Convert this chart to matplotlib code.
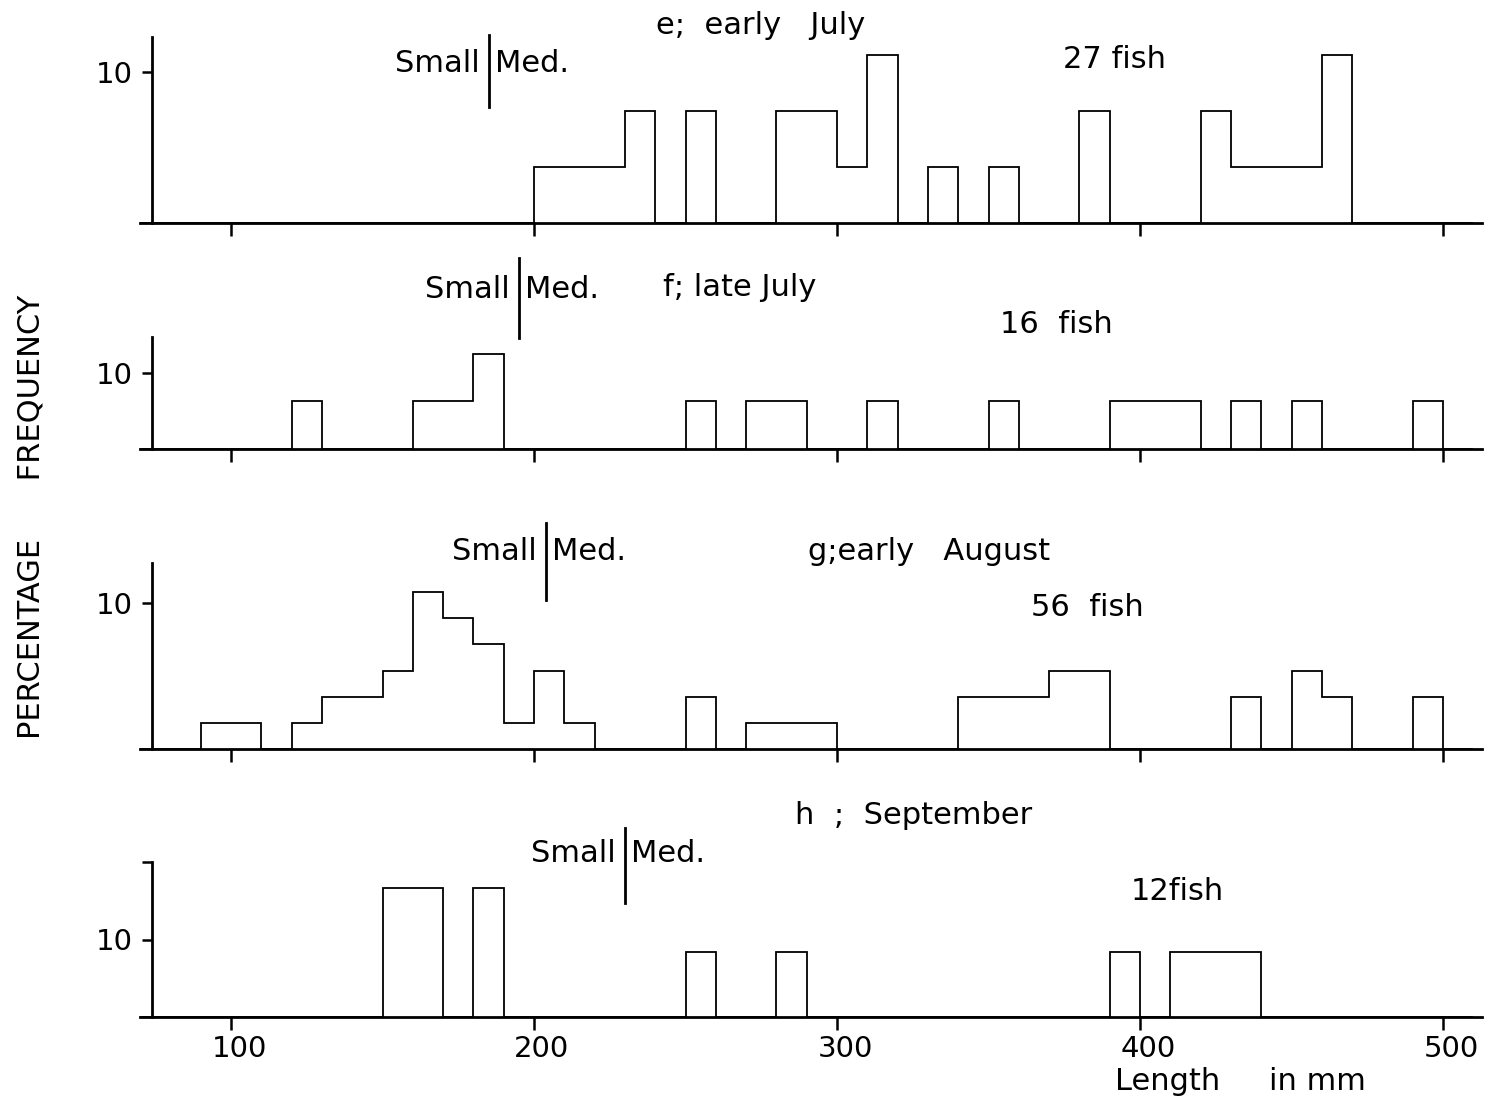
import numpy as np
import matplotlib
matplotlib.use('Agg')
import matplotlib.pyplot as plt
import matplotlib.transforms as mtransforms

plt.rcParams['font.family'] = ['DejaVu Sans']

# length bins are 10 mm wide, listed by their lower edge; counts are fish per bin
early_july_bins = [200, 210, 220, 230, 250, 280, 290, 300, 310, 330, 350, 380, 420, 430, 440, 450, 460]
early_july_fish = [1, 1, 1, 2, 2, 2, 2, 1, 3, 1, 1, 2, 2, 1, 1, 1, 3]

late_july_bins = [120, 160, 170, 180, 250, 270, 280, 310, 350, 390, 400, 410, 430, 450, 490]
late_july_fish = [1, 1, 1, 2, 1, 1, 1, 1, 1, 1, 1, 1, 1, 1, 1]

early_aug_bins = [90, 100, 120, 130, 140, 150, 160, 170, 180, 190, 200, 210, 250, 270, 280, 290,
                  340, 350, 360, 370, 380, 430, 450, 460, 490]
early_aug_fish = [1, 1, 1, 2, 2, 3, 6, 5, 4, 1, 3, 1, 2, 1, 1, 1, 2, 2, 2, 3, 3, 2, 3, 2, 2]

sept_bins = [150, 160, 180, 250, 280, 390, 410, 420, 430]
sept_fish = [2, 2, 2, 1, 1, 1, 1, 1, 1]

panel_titles = ['e;  early   July', 'f; late July', 'g;early   August', 'h  ;  September']
fish_labels = ['27 fish', '16  fish', '56  fish', '12fish']
# small / medium size boundary drawn on each panel (mm)
small_med_cut = [185, 195, 204, 230]

x_ticks = [100, 200, 300, 400, 500]

W, H = 1488, 1099
fig = plt.figure(figsize=(W / 100, H / 100), dpi=100)


def fx(px):
    return px / W


def fy(py):
    return 1 - py / H


# (baseline px, top px, ymax %)
panel_boxes = [(223, 37, 12.3), (449, 337, 14.7), (749, 563, 12.7), (1017, 862, 20.0)]
xmin, xmax = 70, 513
left_px = 231 + (xmin - 100) * 3.03
right_px = 231 + (xmax - 100) * 3.03

data = [(early_july_bins, early_july_fish), (late_july_bins, late_july_fish),
        (early_aug_bins, early_aug_fish), (sept_bins, sept_fish)]

title_pos = [(656, 25), (663, 288), (808, 551), (795, 816)]
fish_pos = [(1063, 60), (1000, 324), (1031, 608), (1131, 891)]
cut_span = [(35, 107), (258, 338), (523, 600), (828, 903)]
cut_text_y = [63, 290, 551, 853]

edges = np.arange(xmin, 520, 10)
fs = 22

axes = []
for i, (base, top, ymax) in enumerate(panel_boxes):
    ax = fig.add_axes([fx(left_px), fy(base), fx(right_px - left_px), (base - top) / H])
    axes.append(ax)
    bins, fish = data[i]
    counts = np.zeros(len(edges) - 1)
    for b, n in zip(bins, fish):
        counts[(b - xmin) // 10] = n
    pct = counts / sum(fish) * 100
    ax.stairs(pct, edges, baseline=0, fill=False, color='black', lw=1.3)

    ax.set_xlim(xmin, xmax)
    ax.set_ylim(0, ymax)
    for s in ['top', 'right']:
        ax.spines[s].set_visible(False)
    ax.spines['left'].set_position(('data', 74))
    ax.spines['left'].set_linewidth(2.0)
    ax.spines['bottom'].set_linewidth(2.0)
    ax.set_facecolor('none')

    ax.set_xticks(x_ticks)
    ax.tick_params(axis='x', direction='out', length=9, width=1.8, pad=4, labelsize=21)
    if i < 3:
        ax.set_xticklabels([])
        ax.set_yticks([10])
        ax.set_yticklabels(['10'])
    else:
        ax.set_yticks([10, 20])
        ax.set_yticklabels(['10', ''])
        for lbl in ax.get_xticklabels():
            lbl.set_transform(lbl.get_transform() +
                              mtransforms.ScaledTranslation(0.08, 0, fig.dpi_scale_trans))
    ax.tick_params(axis='y', direction='out', length=7, width=1.8, pad=7, labelsize=21)

    # panel title and sample size
    fig.text(fx(title_pos[i][0]), fy(title_pos[i][1]), panel_titles[i], fontsize=fs,
             ha='left', va='center')
    fig.text(fx(fish_pos[i][0]), fy(fish_pos[i][1]), fish_labels[i], fontsize=fs,
             ha='left', va='center')

    # small / medium boundary marker
    trans = mtransforms.blended_transform_factory(ax.transData, fig.transFigure)
    cut = small_med_cut[i]
    ax.plot([cut, cut], [fy(cut_span[i][0]), fy(cut_span[i][1])], color='black', lw=2.0,
            transform=trans, clip_on=False)
    ax.text(cut - 3.0, fy(cut_text_y[i]), 'Small', transform=trans, fontsize=fs,
            ha='right', va='center')
    ax.text(cut + 2.0, fy(cut_text_y[i]), 'Med.', transform=trans, fontsize=fs,
            ha='left', va='center')

fig.text(fx(31), fy(517), 'PERCENTAGE      FREQUENCY', rotation=90, fontsize=fs,
         ha='center', va='center')
fig.text(fx(1115), fy(1082), 'Length     in mm', fontsize=fs, ha='left', va='center')

fig.savefig('out.png', dpi=100)
